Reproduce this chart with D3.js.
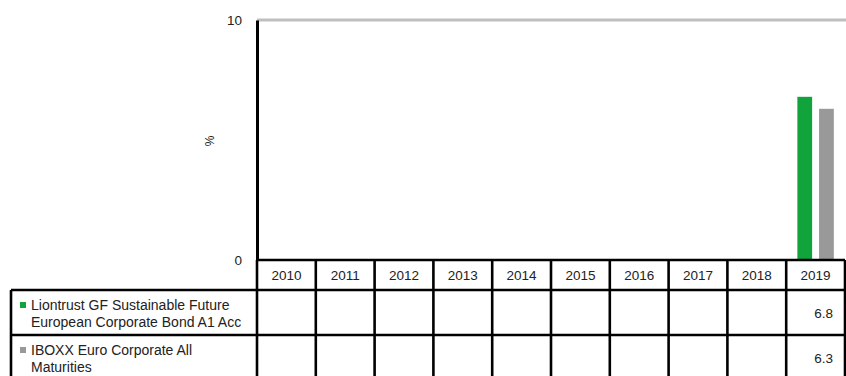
<!DOCTYPE html>
<html>
<head>
<meta charset="utf-8">
<script src="https://cdn.jsdelivr.net/npm/d3@7"></script>
<style>
  html, body { margin: 0; padding: 0; background: #fff; }
  svg { display: block; font-family: "Liberation Sans", Arial, sans-serif; }
</style>
</head>
<body>
<svg id="chart" width="846" height="376"></svg>
<script>
const years = ["2010", "2011", "2012", "2013", "2014", "2015", "2016", "2017", "2018", "2019"];
const seriesNames = [
  "Liontrust GF Sustainable Future European Corporate Bond A1 Acc",
  "IBOXX Euro Corporate All Maturities"
];
const legendLines = [
  ["Liontrust GF Sustainable Future", "European Corporate Bond A1 Acc"],
  ["IBOXX Euro Corporate All", "Maturities"]
];
const fundValues = [null, null, null, null, null, null, null, null, null, 6.8];
const indexValues = [null, null, null, null, null, null, null, null, null, 6.3];
const yTicks = [0, 10];
const colors = ["#12a43c", "#999999"];

const svg = d3.select("#chart");
const plotLeft = 257, plotRight = 845, plotTop = 20, plotBottom = 260;
const headerH = 30, rowH = 45, tableLeft = 11;
const lineW = 2.6;

const x0 = d3.scaleBand().domain(years).range([plotLeft, plotRight]);
const bw = x0.bandwidth();
const x1 = d3.scaleBand().domain(seriesNames)
  .range([bw * 0.19, bw * 0.81]).paddingInner(0.32);
const y = d3.scaleLinear().domain([0, 10]).range([plotBottom, plotTop]);

const series = [fundValues, indexValues];

// top gridline
svg.append("g").selectAll("line")
  .data(yTicks.filter(t => t > 0))
  .join("line")
  .attr("x1", plotLeft).attr("x2", 846)
  .attr("y1", d => y(d)).attr("y2", d => y(d))
  .attr("stroke", "#bfbfbf").attr("stroke-width", 3);

// bars
const bars = svg.append("g");
series.forEach((vals, si) => {
  bars.selectAll(null)
    .data(years.map((yr, i) => ({ yr, v: vals[i] })).filter(d => d.v != null))
    .join("rect")
    .attr("x", d => x0(d.yr) + x1(seriesNames[si]))
    .attr("y", d => y(d.v))
    .attr("width", x1.bandwidth())
    .attr("height", d => y(0) - y(d.v))
    .attr("fill", colors[si]);
});

// y axis
const yAxis = svg.append("g")
  .attr("transform", `translate(${plotLeft},0)`)
  .call(d3.axisLeft(y).tickValues(yTicks).tickSize(0).tickPadding(15));
yAxis.select(".domain").attr("stroke", "#000").attr("stroke-width", 3);
yAxis.selectAll("text").attr("font-size", 13.5).attr("fill", "#222")
  .attr("font-family", "Liberation Sans, Arial, sans-serif");

svg.append("text")
  .attr("transform", `translate(214,141) rotate(-90)`)
  .attr("text-anchor", "middle")
  .attr("font-size", 12)
  .attr("fill", "#222")
  .text("%");

// data table
const table = svg.append("g");
const rowTops = [plotBottom + headerH, plotBottom + headerH + rowH];
const tableBottom = rowTops[1] + rowH;
const colEdges = years.map(yr => x0(yr)).concat([plotRight]);

// horizontal lines
table.append("line")
  .attr("x1", plotLeft).attr("x2", plotRight)
  .attr("y1", plotBottom).attr("y2", plotBottom);
table.selectAll(null).data(rowTops.concat([tableBottom])).join("line")
  .attr("x1", tableLeft).attr("x2", plotRight)
  .attr("y1", d => d).attr("y2", d => d);
// vertical lines
table.selectAll(null).data(colEdges).join("line")
  .attr("x1", d => d).attr("x2", d => d)
  .attr("y1", plotBottom).attr("y2", tableBottom);
table.append("line")
  .attr("x1", tableLeft).attr("x2", tableLeft)
  .attr("y1", rowTops[0]).attr("y2", tableBottom);
table.selectAll("line").attr("stroke", "#000").attr("stroke-width", lineW);

// header years
table.selectAll(null).data(years).join("text")
  .attr("x", d => x0(d) + bw / 2)
  .attr("y", plotBottom + headerH / 2)
  .attr("dy", "0.35em")
  .attr("text-anchor", "middle")
  .attr("font-size", 13.5)
  .attr("fill", "#222")
  .text(d => d);

// legend cells and values
series.forEach((vals, si) => {
  const top = rowTops[si];
  const mid = top + rowH / 2;
  table.append("rect")
    .attr("x", 20).attr("y", mid - 10.5)
    .attr("width", 6).attr("height", 6)
    .attr("fill", colors[si]);
  table.append("text")
    .attr("font-size", 14).attr("fill", "#222")
    .selectAll("tspan").data(legendLines[si]).join("tspan")
    .attr("x", 31)
    .attr("y", (d, i) => mid - 7.5 + i * 17)
    .attr("dy", "0.35em")
    .text(d => d);
  table.selectAll(null)
    .data(years.map((yr, i) => ({ yr, v: vals[i] })).filter(d => d.v != null))
    .join("text")
    .attr("x", d => x0(d.yr) + bw - 12)
    .attr("y", mid + 1)
    .attr("dy", "0.35em")
    .attr("text-anchor", "end")
    .attr("font-size", 13.5)
    .attr("fill", "#222")
    .text(d => d.v.toFixed(1));
});
</script>
</body>
</html>
